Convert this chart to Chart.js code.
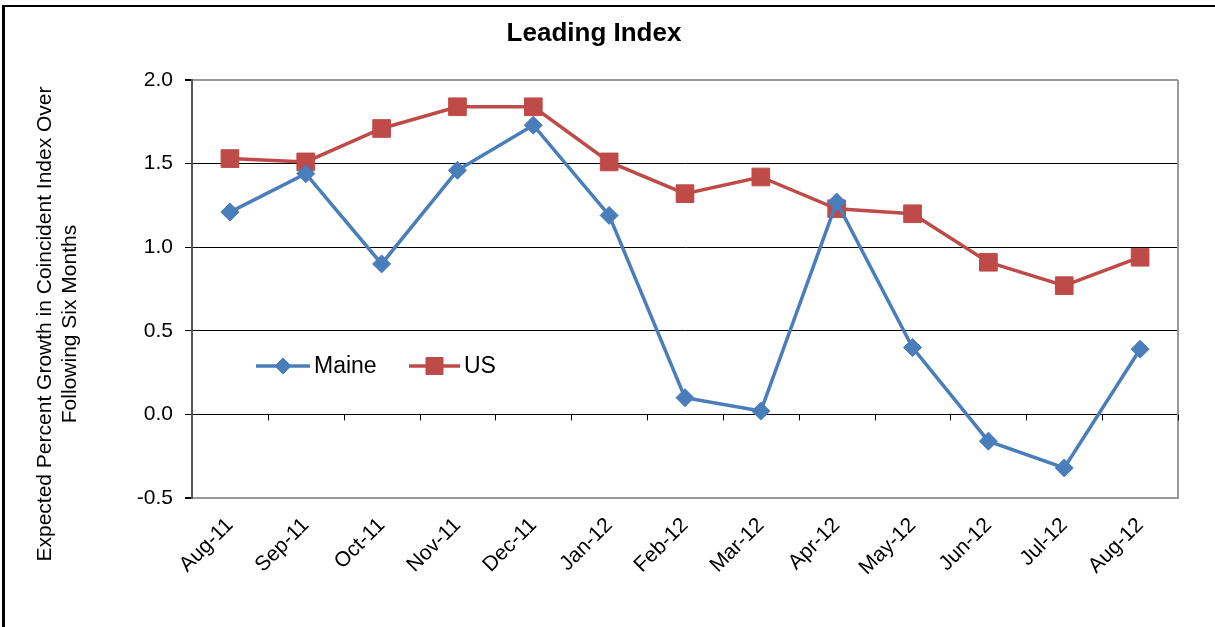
<!DOCTYPE html>
<html>
<head>
<meta charset="utf-8">
<script src="https://cdn.jsdelivr.net/npm/chart.js@4.4.0/dist/chart.umd.min.js"></script>
<style>
  html, body { margin: 0; padding: 0; background: #fff; }
  #wrap { width: 1215px; height: 627px; }
</style>
</head>
<body>
<div id="wrap"><canvas id="leadingChart" width="1215" height="627"></canvas></div>
<script>
// values
const months = ['Aug-11', 'Sep-11', 'Oct-11', 'Nov-11', 'Dec-11', 'Jan-12', 'Feb-12',
                'Mar-12', 'Apr-12', 'May-12', 'Jun-12', 'Jul-12', 'Aug-12'];
const maine = [1.21, 1.44, 0.90, 1.46, 1.73, 1.19, 0.10, 0.02, 1.27, 0.40, -0.16, -0.32, 0.39];
const us = [1.53, 1.51, 1.71, 1.84, 1.84, 1.51, 1.32, 1.42, 1.23, 1.20, 0.91, 0.77, 0.94];
const yTicks = [-0.5, 0, 0.5, 1.0, 1.5, 2.0];

const chartTitle = 'Leading Index';
const yTitle = ['Expected Percent Growth in Coincident Index Over', 'Following Six Months'];

const FONT = "'Liberation Sans', Arial, sans-serif";
const blue = '#4A7EBB';
const red = '#BE4B48';

// frame, title, y title, zero line ticks and the legend box inside the plot
const extras = {
  id: 'extras',
  beforeDraw(chart) {
    const ctx = chart.ctx;
    ctx.save();
    ctx.fillStyle = '#fff';
    ctx.fillRect(0, 0, chart.width, chart.height);
    ctx.fillStyle = '#000';
    ctx.fillRect(2, 5, 3, chart.height - 5);
    ctx.fillRect(2, 5, chart.width - 2, 2);
    ctx.restore();
  },
  beforeDatasetsDraw(chart) {
    const ctx = chart.ctx;
    const area = chart.chartArea;
    const x = chart.scales.x;
    const y0 = chart.scales.y.getPixelForValue(0);
    const step = (area.right - area.left) / months.length;
    ctx.save();
    // plot border on the right
    ctx.strokeStyle = '#999';
    ctx.lineWidth = 2;
    ctx.beginPath();
    ctx.moveTo(area.right, area.top);
    ctx.lineTo(area.right, area.bottom + 1);
    ctx.stroke();
    // category ticks on the zero line
    ctx.strokeStyle = '#000';
    ctx.lineWidth = 1;
    ctx.beginPath();
    for (let i = 1; i <= months.length; i++) {
      const px = Math.round(x.getPixelForValue(i - 1) + step / 2) + 0.5;
      ctx.moveTo(px, y0);
      ctx.lineTo(px, y0 + 6);
    }
    ctx.stroke();
    ctx.restore();
  },
  afterDraw(chart) {
    const ctx = chart.ctx;
    const area = chart.chartArea;
    ctx.save();
    ctx.fillStyle = '#000';

    // chart title
    ctx.font = 'bold 26px ' + FONT;
    ctx.textAlign = 'center';
    ctx.textBaseline = 'middle';
    ctx.fillText(chartTitle, 594, 34);

    // y axis title, two lines
    ctx.font = '21px ' + FONT;
    ctx.translate(45, 324);
    ctx.rotate(-Math.PI / 2);
    ctx.fillText(yTitle[0], 0, 0);
    ctx.fillText(yTitle[1], 0, 25);
    ctx.setTransform(1, 0, 0, 1, 0, 0);

    // legend
    const ly = area.top + 286;
    const items = [
      { label: 'Maine', color: blue, style: 'rectRot', r: 8, x: area.left + 64, len: 54 },
      { label: 'US', color: red, style: 'rect', r: 12, x: area.left + 217, len: 51 }
    ];
    ctx.font = '23px ' + FONT;
    ctx.textAlign = 'left';
    items.forEach(it => {
      ctx.strokeStyle = it.color;
      ctx.fillStyle = it.color;
      ctx.lineWidth = 3.5;
      ctx.beginPath();
      ctx.moveTo(it.x, ly);
      ctx.lineTo(it.x + it.len, ly);
      ctx.stroke();
      ctx.lineWidth = 1;
      Chart.helpers.drawPoint(ctx, { pointStyle: it.style, radius: it.r, rotation: 0, borderWidth: 1 },
        it.x + it.len / 2, ly);
      ctx.fillStyle = '#000';
      ctx.fillText(it.label, it.x + it.len + 4, ly + 1);
    });
    ctx.restore();
  }
};

new Chart(document.getElementById('leadingChart'), {
  type: 'line',
  data: {
    labels: months,
    datasets: [{
      label: 'Maine',
      data: maine,
      borderColor: blue,
      backgroundColor: blue,
      borderWidth: 3.5,
      pointStyle: 'rectRot',
      pointRadius: 9,
      pointBorderWidth: 1,
      tension: 0
    }, {
      label: 'US',
      data: us,
      borderColor: red,
      backgroundColor: red,
      borderWidth: 3.5,
      pointStyle: 'rect',
      pointRadius: 12.5,
      pointBorderWidth: 1,
      tension: 0
    }]
  },
  options: {
    responsive: false,
    animation: false,
    layout: { padding: { top: 80, right: 37, left: 0, bottom: 0 } },
    plugins: {
      legend: { display: false },
      title: { display: false },
      tooltip: { enabled: false }
    },
    scales: {
      x: {
        offset: true,
        grid: { display: false },
        border: { color: '#999', width: 2 },
        ticks: {
          minRotation: 45,
          maxRotation: 45,
          color: '#000',
          padding: 7,
          font: { family: FONT, size: 21 }
        },
        afterFit: s => { s.height = 129; }
      },
      y: {
        min: -0.5,
        max: 2.0,
        afterBuildTicks: s => { s.ticks = yTicks.map(v => ({ value: v })); },
        ticks: {
          color: '#000',
          padding: 12,
          font: { family: FONT, size: 21 },
          callback: v => Number(v).toFixed(1)
        },
        grid: {
          color: c => (c.tick && (c.tick.value === 2 || c.tick.value === -0.5)) ? '#999' : '#000',
          tickColor: '#000',
          tickLength: 7,
          lineWidth: c => (c.tick && (c.tick.value === 2 || c.tick.value === -0.5)) ? 2 : 1
        },
        border: { color: '#555', width: 2 },
        afterFit: s => { s.width = 192; }
      }
    }
  },
  plugins: [extras]
});
</script>
</body>
</html>
